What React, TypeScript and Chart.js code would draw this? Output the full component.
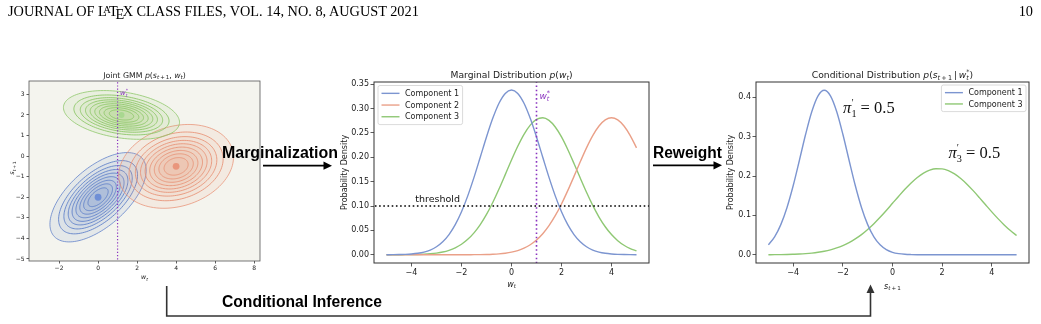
import React, { useEffect, useRef } from 'react';
import { Chart, registerables } from 'chart.js';

Chart.register(...registerables);

const PAGE_W = 1041;
const PAGE_H = 324;

// ---------------- data ----------------
const GRID_X = [-5, -4.75, -4.5, -4.25, -4, -3.75, -3.5, -3.25, -3, -2.75, -2.5, -2.25, -2, -1.75, -1.5, -1.25, -1, -0.75, -0.5, -0.25, 0, 0.25, 0.5, 0.75, 1, 1.25, 1.5, 1.75, 2, 2.25, 2.5, 2.75, 3, 3.25, 3.5, 3.75, 4, 4.25, 4.5, 4.75, 5];

const MARG_LABELS = ['Component 1', 'Component 2', 'Component 3'];
const MARG_COMP1 = [0.0001, 0.0002, 0.0004, 0.0008, 0.0016, 0.003, 0.0055, 0.0097, 0.0165, 0.0267, 0.0414, 0.0617, 0.0882, 0.1208, 0.1587, 0.2, 0.2416, 0.2798, 0.3108, 0.331, 0.338, 0.331, 0.3108, 0.2798, 0.2416, 0.2, 0.1587, 0.1208, 0.0882, 0.0617, 0.0414, 0.0267, 0.0165, 0.0097, 0.0055, 0.003, 0.0016, 0.0008, 0.0004, 0.0002, 0.0001];
const MARG_COMP2 = [0, 0, 0, 0, 0, 0, 0, 0, 0, 0, 0, 0, 0, 0.0001, 0.0002, 0.0003, 0.0006, 0.0011, 0.0019, 0.0032, 0.0053, 0.0086, 0.0135, 0.0205, 0.0302, 0.0431, 0.0597, 0.0801, 0.1042, 0.1315, 0.1608, 0.1907, 0.2193, 0.2444, 0.2641, 0.2767, 0.281, 0.2767, 0.2641, 0.2444, 0.2193];
const MARG_COMP3 = [0, 0, 0.0001, 0.0002, 0.0003, 0.0006, 0.0011, 0.002, 0.0034, 0.0056, 0.0091, 0.0142, 0.0215, 0.0316, 0.0449, 0.0619, 0.0828, 0.1073, 0.1349, 0.1644, 0.1943, 0.2225, 0.2471, 0.266, 0.2777, 0.281, 0.2756, 0.2621, 0.2417, 0.216, 0.1872, 0.1573, 0.1281, 0.1012, 0.0774, 0.0575, 0.0414, 0.0289, 0.0195, 0.0128, 0.0081];

const COND_LABELS = ['Component 1', 'Component 3'];
const COND_COMP1 = [0.0253, 0.0456, 0.0766, 0.1202, 0.1759, 0.2402, 0.3061, 0.364, 0.4038, 0.418, 0.4038, 0.364, 0.3061, 0.2402, 0.1759, 0.1202, 0.0766, 0.0456, 0.0253, 0.0131, 0.0063, 0.0029, 0.0012, 0.0005, 0.0002, 0.0001, 0, 0, 0, 0, 0, 0, 0, 0, 0, 0, 0, 0, 0, 0, 0];
const COND_COMP3 = [0.0002, 0.0003, 0.0005, 0.0008, 0.0013, 0.0019, 0.0029, 0.0043, 0.0063, 0.009, 0.0126, 0.0173, 0.0234, 0.031, 0.0403, 0.0513, 0.0643, 0.079, 0.0952, 0.1125, 0.1307, 0.1488, 0.1663, 0.1825, 0.1964, 0.2074, 0.215, 0.2187, 0.2183, 0.2138, 0.2055, 0.1938, 0.1794, 0.1629, 0.1452, 0.127, 0.109, 0.0918, 0.0759, 0.0615, 0.049];
const COND_WEIGHTS = ['0.5', '0.5'];

// joint GMM: component means and ellipse shapes (w, s units)
const GMM_MEAN_W = [0, 4, 1.2];
const GMM_MEAN_S = [-2, -0.5, 2.0];
const GMM_AXIS_MAJOR = [2.95, 3.0, 3.0];
const GMM_AXIS_MINOR = [1.45, 1.95, 1.12];
const GMM_ANGLE_DEG = [39, 15, -8];
const CONTOUR_LEVELS = [1, 0.82, 0.71, 0.62, 0.54, 0.46, 0.38, 0.3, 0.21];

const JOINT_X_TICKS = [-2, 0, 2, 4, 6, 8];
const JOINT_Y_TICKS = [-5, -4, -3, -2, -1, 0, 1, 2, 3];
const MARG_X_TICKS = [-4, -2, 0, 2, 4];
const MARG_Y_TICKS = [0, 0.05, 0.1, 0.15, 0.2, 0.25, 0.3, 0.35];
const COND_X_TICKS = [-4, -2, 0, 2, 4];
const COND_Y_TICKS = [0, 0.1, 0.2, 0.3, 0.4];

const W_STAR = 1;
const THRESHOLD = 0.1;

// ---------------- style ----------------
const FONT = 'DejaVu Sans';
const SERIF = 'Liberation Serif';
const TEXT = '#222222';
const FRAME = '#333333';
const C_BLUE = '#7c95d0';
const C_RED = '#eaa088';
const C_GREEN = '#8fc874';
const C_PURPLE = '#8b35c0';
const CONTOUR_RGB = [[92, 126, 200], [232, 146, 118], [138, 198, 100]];
const DOT_COLORS = ['#6f8fd6', '#e9967c', '#a9d890'];

const JOINT_AREA = { l: 29, t: 81, r: 260, b: 261 };
const MARG_AREA = { l: 374, t: 82, r: 649, b: 263 };
const COND_AREA = { l: 756, t: 82, r: 1029, b: 263 };

type Seg = { t: string; i?: boolean; k?: number; dy?: number; f?: string; stack?: boolean };
const SUB = { k: 0.7, dy: 0.24 };
const SUP = { k: 0.7, dy: -0.42 };

const JOINT_TITLE: Seg[] = [{ t: 'Joint GMM ' }, { t: 'p', i: true }, { t: '(' }, { t: 's', i: true }, { t: 't', i: true, ...SUB }, { t: '\u2009+\u20091', ...SUB }, { t: ', ' }, { t: 'w', i: true }, { t: 't', i: true, ...SUB }, { t: ')' }];
const MARG_TITLE: Seg[] = [{ t: 'Marginal Distribution ' }, { t: 'p', i: true }, { t: '(' }, { t: 'w', i: true }, { t: 't', i: true, ...SUB }, { t: ')' }];
const COND_TITLE: Seg[] = [{ t: 'Conditional Distribution ' }, { t: 'p', i: true }, { t: '(' }, { t: 's', i: true }, { t: 't', i: true, ...SUB }, { t: '\u2009+\u20091', ...SUB }, { t: '\u2009|\u2009' }, { t: 'w', i: true }, { t: 't', i: true, ...SUB }, { t: '*', ...SUP, stack: true }, { t: ')' }];
const W_LABEL: Seg[] = [{ t: 'w', i: true }, { t: 't', i: true, ...SUB }];
const S_LABEL: Seg[] = [{ t: 's', i: true }, { t: 't', i: true, ...SUB }, { t: '\u2009+\u20091', ...SUB }];
const WSTAR_LABEL: Seg[] = [{ t: 'w', i: true }, { t: 't', i: true, ...SUB }, { t: '*', ...SUP, stack: true }];
const piLabel = (idx: string, val: string): Seg[] => [
  { t: 'π', i: true, f: SERIF },
  { t: '\u2032', k: 0.6, dy: -0.42, f: SERIF },
  { t: idx, k: 0.62, dy: 0.26, f: SERIF, stack: true },
  { t: ' = ' + val, f: SERIF },
];

function segFont(size: number, s: Seg) {
  return `${s.i ? 'italic ' : ''}${(size * (s.k ?? 1)).toFixed(2)}px "${s.f ?? FONT}"`;
}
function layoutRich(ctx: CanvasRenderingContext2D, segs: Seg[], size: number) {
  let cx = 0;
  let prevStart = 0;
  const pos: number[] = [];
  for (const s of segs) {
    ctx.font = segFont(size, s);
    const w = ctx.measureText(s.t).width;
    const sx = s.stack ? prevStart : cx;
    pos.push(sx);
    if (s.stack) cx = Math.max(cx, sx + w);
    else { prevStart = sx; cx = sx + w; }
  }
  return { pos, width: cx };
}
function drawRich(ctx: CanvasRenderingContext2D, segs: Seg[], x: number, y: number, size: number, align: 'left' | 'center' | 'right', color: string) {
  ctx.save();
  ctx.fillStyle = color;
  ctx.textAlign = 'left';
  ctx.textBaseline = 'alphabetic';
  const { pos, width } = layoutRich(ctx, segs, size);
  const x0 = align === 'center' ? x - width / 2 : align === 'right' ? x - width : x;
  segs.forEach((s, i) => {
    ctx.font = segFont(size, s);
    ctx.fillText(s.t, x0 + pos[i], y + (s.dy ?? 0) * size);
  });
  ctx.restore();
}
function drawRichVertical(ctx: CanvasRenderingContext2D, segs: Seg[], cx: number, cy: number, size: number, color: string) {
  ctx.save();
  ctx.translate(cx, cy);
  ctx.rotate(-Math.PI / 2);
  drawRich(ctx, segs, 0, 0.36 * size, size, 'center', color);
  ctx.restore();
}

function drawFrame(ctx: CanvasRenderingContext2D, a: any, color: string, lw: number) {
  ctx.save();
  ctx.strokeStyle = color;
  ctx.lineWidth = lw;
  ctx.strokeRect(a.left, a.top, a.right - a.left, a.bottom - a.top);
  ctx.restore();
}

function drawLegend(ctx: CanvasRenderingContext2D, items: { label: string; color: string }[], x: number, y0: number, rowH: number, alignRight: boolean) {
  const size = 8, padX = 3.5, handle = 18, gap = 5.5;
  ctx.save();
  ctx.font = `${size}px "${FONT}"`;
  const tw = Math.max(...items.map((it) => ctx.measureText(it.label).width));
  const w = padX + handle + gap + tw + padX;
  const h = rowH * items.length + 4;
  const left = alignRight ? x - w : x;
  ctx.beginPath();
  (ctx as any).roundRect(left, y0, w, h, 2);
  ctx.fillStyle = 'rgba(255,255,255,0.85)';
  ctx.fill();
  ctx.strokeStyle = '#d0d0d0';
  ctx.lineWidth = 0.8;
  ctx.stroke();
  items.forEach((it, i) => {
    const cy = y0 + 2 + rowH * (i + 0.5);
    ctx.beginPath();
    ctx.moveTo(left + padX, cy);
    ctx.lineTo(left + padX + handle, cy);
    ctx.strokeStyle = it.color;
    ctx.lineWidth = 1.4;
    ctx.stroke();
    ctx.fillStyle = TEXT;
    ctx.textBaseline = 'middle';
    ctx.textAlign = 'left';
    ctx.fillText(it.label, left + padX + handle + gap, cy + 0.5);
  });
  ctx.restore();
}

const fmtInt = (v: number) => (v < 0 ? '\u2212' + Math.abs(v) : String(v));
const fmt2 = (v: number) => v.toFixed(2);
const fmt1 = (v: number) => v.toFixed(1);

function linAxis(min: number, max: number, ticks: number[], fmt: (v: number) => string, fontSize: number, tickLen: number, pad: number, fit: (s: any) => void) {
  return {
    type: 'linear',
    min,
    max,
    afterBuildTicks: (s: any) => { s.ticks = ticks.map((v) => ({ value: v })); },
    afterFit: fit,
    ticks: {
      callback: (v: any) => fmt(Number(v)),
      font: { family: FONT, size: fontSize },
      color: TEXT,
      padding: pad,
      maxRotation: 0,
      minRotation: 0,
      autoSkip: false,
    },
    grid: { drawOnChartArea: false, drawTicks: true, tickLength: tickLen, color: FRAME, lineWidth: 0.8 },
    border: { display: false },
  };
}

function padFor(area: { l: number; t: number; r: number; b: number }, yW: number, xH: number) {
  return { left: area.l - yW, top: area.t, right: PAGE_W - area.r, bottom: PAGE_H - area.b - xH };
}

const BASE = {
  responsive: false,
  maintainAspectRatio: false,
  animation: false,
  devicePixelRatio: 1,
  events: [] as string[],
};

function buildJoint(canvas: HTMLCanvasElement) {
  const contourPlugin = {
    id: 'jointContours',
    beforeDatasetsDraw(chart: any) {
      const { ctx, chartArea: a, scales } = chart;
      const sx = scales.x, sy = scales.y;
      ctx.save();
      ctx.fillStyle = '#f4f4ee';
      ctx.fillRect(a.left, a.top, a.right - a.left, a.bottom - a.top);
      ctx.beginPath();
      ctx.rect(a.left, a.top, a.right - a.left, a.bottom - a.top);
      ctx.clip();
      for (let k = 0; k < GMM_MEAN_W.length; k++) {
        const th = (GMM_ANGLE_DEG[k] * Math.PI) / 180;
        const [r, g, b] = CONTOUR_RGB[k];
        CONTOUR_LEVELS.forEach((lv, li) => {
          ctx.beginPath();
          for (let i = 0; i <= 120; i++) {
            const t = (i / 120) * Math.PI * 2;
            const u = lv * GMM_AXIS_MAJOR[k] * Math.cos(t);
            const v = lv * GMM_AXIS_MINOR[k] * Math.sin(t);
            const px = sx.getPixelForValue(GMM_MEAN_W[k] + u * Math.cos(th) - v * Math.sin(th));
            const py = sy.getPixelForValue(GMM_MEAN_S[k] + u * Math.sin(th) + v * Math.cos(th));
            if (i === 0) ctx.moveTo(px, py); else ctx.lineTo(px, py);
          }
          ctx.closePath();
          ctx.fillStyle = `rgba(${r},${g},${b},${li === 0 ? 0.1 : 0.055})`;
          ctx.fill();
          ctx.strokeStyle = `rgba(${r},${g},${b},${li === 0 ? 0.75 : 0.85})`;
          ctx.lineWidth = 1.0;
          ctx.stroke();
        });
      }
      ctx.restore();
    },
    afterDatasetsDraw(chart: any) {
      const { ctx, chartArea: a, scales } = chart;
      drawFrame(ctx, a, '#555555', 0.8);
      drawRich(ctx, WSTAR_LABEL, scales.x.getPixelForValue(W_STAR) + 2.5, a.top + 14, 6.8, 'left', C_PURPLE);
      drawRich(ctx, JOINT_TITLE, (a.left + a.right) / 2, a.top - 3.5, 7.8, 'center', TEXT);
      drawRich(ctx, W_LABEL, (a.left + a.right) / 2, 279, 6.3, 'center', TEXT);
      drawRichVertical(ctx, S_LABEL, 12, 168, 6.3, TEXT);
    },
  };
  return new Chart(canvas, {
    type: 'scatter',
    data: {
      datasets: [
        {
          data: [{ x: W_STAR, y: -10 }, { x: W_STAR, y: 10 }],
          showLine: true,
          borderColor: C_PURPLE,
          borderWidth: 1.2,
          borderDash: [1.2, 2],
          pointRadius: 0,
        },
        {
          data: GMM_MEAN_W.map((x, i) => ({ x, y: GMM_MEAN_S[i] })),
          pointRadius: [3.4, 3.4, 3.0],
          pointBackgroundColor: DOT_COLORS,
          pointBorderWidth: 0,
          showLine: false,
        },
      ],
    },
    options: {
      ...BASE,
      layout: { padding: padFor(JOINT_AREA, 28, 20) },
      plugins: { legend: { display: false }, tooltip: { enabled: false }, title: { display: false } },
      scales: {
        x: linAxis(-3.54, 8.3, JOINT_X_TICKS, fmtInt, 6, 2.5, 1.5, (s: any) => { s.height = 20; }),
        y: linAxis(-5.1, 3.65, JOINT_Y_TICKS, fmtInt, 6, 2.5, 2, (s: any) => { s.width = 28; }),
      },
    } as any,
    plugins: [contourPlugin],
  } as any);
}

function curve(values: number[], color: string) {
  return {
    data: GRID_X.map((x, i) => ({ x, y: values[i] })),
    borderColor: color,
    borderWidth: 1.4,
    pointRadius: 0,
    fill: false,
    cubicInterpolationMode: 'monotone',
  };
}

function buildMarginal(canvas: HTMLCanvasElement) {
  const colors = [C_BLUE, C_RED, C_GREEN];
  const plugin = {
    id: 'margDecor',
    afterDatasetsDraw(chart: any) {
      const { ctx, chartArea: a, scales } = chart;
      drawFrame(ctx, a, FRAME, 1);
      drawRich(ctx, [{ t: 'threshold' }], scales.x.getPixelForValue(-3.85), scales.y.getPixelForValue(THRESHOLD) - 4.5, 9.5, 'left', '#111');
      drawRich(ctx, WSTAR_LABEL, scales.x.getPixelForValue(W_STAR) + 3, a.top + 17, 9, 'left', C_PURPLE);
      drawLegend(ctx, MARG_LABELS.map((label, i) => ({ label, color: colors[i] })), a.left + 4, a.top + 3.5, 11.7, false);
      drawRich(ctx, MARG_TITLE, (a.left + a.right) / 2, a.top - 4, 9.2, 'center', TEXT);
      drawRich(ctx, W_LABEL, (a.left + a.right) / 2, 286.5, 8, 'center', TEXT);
      drawRichVertical(ctx, [{ t: 'Probability Density' }], 344, (a.top + a.bottom) / 2, 8, TEXT);
    },
  };
  return new Chart(canvas, {
    type: 'line',
    data: {
      datasets: [
        { data: [{ x: W_STAR, y: -1 }, { x: W_STAR, y: 1 }], borderColor: C_PURPLE, borderWidth: 1.6, borderDash: [1.6, 2.6], pointRadius: 0 },
        { data: [{ x: -10, y: THRESHOLD }, { x: 10, y: THRESHOLD }], borderColor: '#000', borderWidth: 1.6, borderDash: [1.6, 2.6], pointRadius: 0 },
        curve(MARG_COMP1, C_BLUE),
        curve(MARG_COMP2, C_RED),
        curve(MARG_COMP3, C_GREEN),
      ],
    },
    options: {
      ...BASE,
      layout: { padding: padFor(MARG_AREA, 40, 20) },
      plugins: { legend: { display: false }, tooltip: { enabled: false }, title: { display: false } },
      scales: {
        x: linAxis(-5.5, 5.5, MARG_X_TICKS, fmtInt, 8, 3.5, 1.5, (s: any) => { s.height = 20; }),
        y: linAxis(-0.0169, 0.3544, MARG_Y_TICKS, fmt2, 8, 3.5, 1.5, (s: any) => { s.width = 40; }),
      },
    } as any,
    plugins: [plugin],
  } as any);
}

function buildConditional(canvas: HTMLCanvasElement) {
  const colors = [C_BLUE, C_GREEN];
  const plugin = {
    id: 'condDecor',
    afterDatasetsDraw(chart: any) {
      const { ctx, chartArea: a, scales } = chart;
      drawFrame(ctx, a, FRAME, 1);
      drawRich(ctx, piLabel('1', COND_WEIGHTS[0]), scales.x.getPixelForValue(-1.99), scales.y.getPixelForValue(0.36), 16.5, 'left', '#111');
      drawRich(ctx, piLabel('3', COND_WEIGHTS[1]), scales.x.getPixelForValue(2.26), scales.y.getPixelForValue(0.246), 16.5, 'left', '#111');
      drawLegend(ctx, COND_LABELS.map((label, i) => ({ label, color: colors[i] })), a.right - 3, a.top + 3, 11.3, true);
      drawRich(ctx, COND_TITLE, (a.left + a.right) / 2, a.top - 4, 9.2, 'center', TEXT);
      drawRich(ctx, S_LABEL, (a.left + a.right) / 2, 288.5, 8, 'center', TEXT);
      drawRichVertical(ctx, [{ t: 'Probability Density' }], 730, (a.top + a.bottom) / 2, 8, TEXT);
    },
  };
  return new Chart(canvas, {
    type: 'line',
    data: {
      datasets: [curve(COND_COMP1, C_BLUE), curve(COND_COMP3, C_GREEN)],
    },
    options: {
      ...BASE,
      layout: { padding: padFor(COND_AREA, 40, 20) },
      plugins: { legend: { display: false }, tooltip: { enabled: false }, title: { display: false } },
      scales: {
        x: linAxis(-5.5, 5.5, COND_X_TICKS, fmtInt, 8, 3.5, 1.5, (s: any) => { s.height = 20; }),
        y: linAxis(-0.0209, 0.4389, COND_Y_TICKS, fmt1, 8, 3.5, 1.5, (s: any) => { s.width = 40; }),
      },
    } as any,
    plugins: [plugin],
  } as any);
}

export default function App() {
  const r1 = useRef<HTMLCanvasElement>(null);
  const r2 = useRef<HTMLCanvasElement>(null);
  const r3 = useRef<HTMLCanvasElement>(null);

  useEffect(() => {
    const charts = [buildJoint(r1.current!), buildMarginal(r2.current!), buildConditional(r3.current!)];
    return () => charts.forEach((c) => c.destroy());
  }, []);

  const cs: React.CSSProperties = { position: 'absolute', left: 0, top: 0, width: PAGE_W, height: PAGE_H };
  const arrowFont = { fontFamily: '"Liberation Sans", Arial, sans-serif', fontWeight: 700, fontSize: 16 } as const;

  return (
    <div style={{ position: 'fixed', left: 0, top: 0, width: PAGE_W, height: PAGE_H, background: '#ffffff', overflow: 'hidden' }}>
      <canvas ref={r1} width={PAGE_W} height={PAGE_H} style={cs} />
      <canvas ref={r2} width={PAGE_W} height={PAGE_H} style={cs} />
      <canvas ref={r3} width={PAGE_W} height={PAGE_H} style={cs} />
      <svg width={PAGE_W} height={PAGE_H} style={{ position: 'absolute', left: 0, top: 0 }}>
        <text x={8} y={15.7} fontFamily='"Liberation Serif", serif' fontSize={14.3} fill="#000">
          {'JOURNAL OF L'}
          <tspan dx={-3.6} dy={-3.2} fontSize={10.4}>A</tspan>
          <tspan dx={-1.6} dy={3.2}>T</tspan>
          <tspan dx={-2.2} dy={3.0}>E</tspan>
          <tspan dx={-1.7} dy={-3.0}>{'X CLASS FILES, VOL. 14, NO. 8, AUGUST 2021'}</tspan>
        </text>
        <text x={1033} y={15.7} fontFamily='"Liberation Serif", serif' fontSize={14.3} textAnchor="end" fill="#000">10</text>

        <text x={222} y={157.7} {...arrowFont} textLength={116} lengthAdjust="spacingAndGlyphs" fill="#000">Marginalization</text>
        <line x1={263} y1={165.7} x2={325} y2={165.7} stroke="#000" strokeWidth={1.8} />
        <polygon points="332,165.7 323.5,161.6 323.5,169.8" fill="#000" />

        <text x={653} y={157.5} {...arrowFont} textLength={69} lengthAdjust="spacingAndGlyphs" fill="#000">Reweight</text>
        <line x1={653} y1={165.3} x2={715} y2={165.3} stroke="#000" strokeWidth={1.8} />
        <polygon points="722,165.3 713.5,161.2 713.5,169.4" fill="#000" />

        <text x={222} y={307.3} {...arrowFont} textLength={160} lengthAdjust="spacingAndGlyphs" fill="#000">Conditional Inference</text>
        <polyline points="166.7,286 166.7,316 870.5,316 870.5,292" fill="none" stroke="#333" strokeWidth={1.6} />
        <polygon points="870.5,284.5 866.5,293 874.5,293" fill="#333" />
      </svg>
    </div>
  );
}
